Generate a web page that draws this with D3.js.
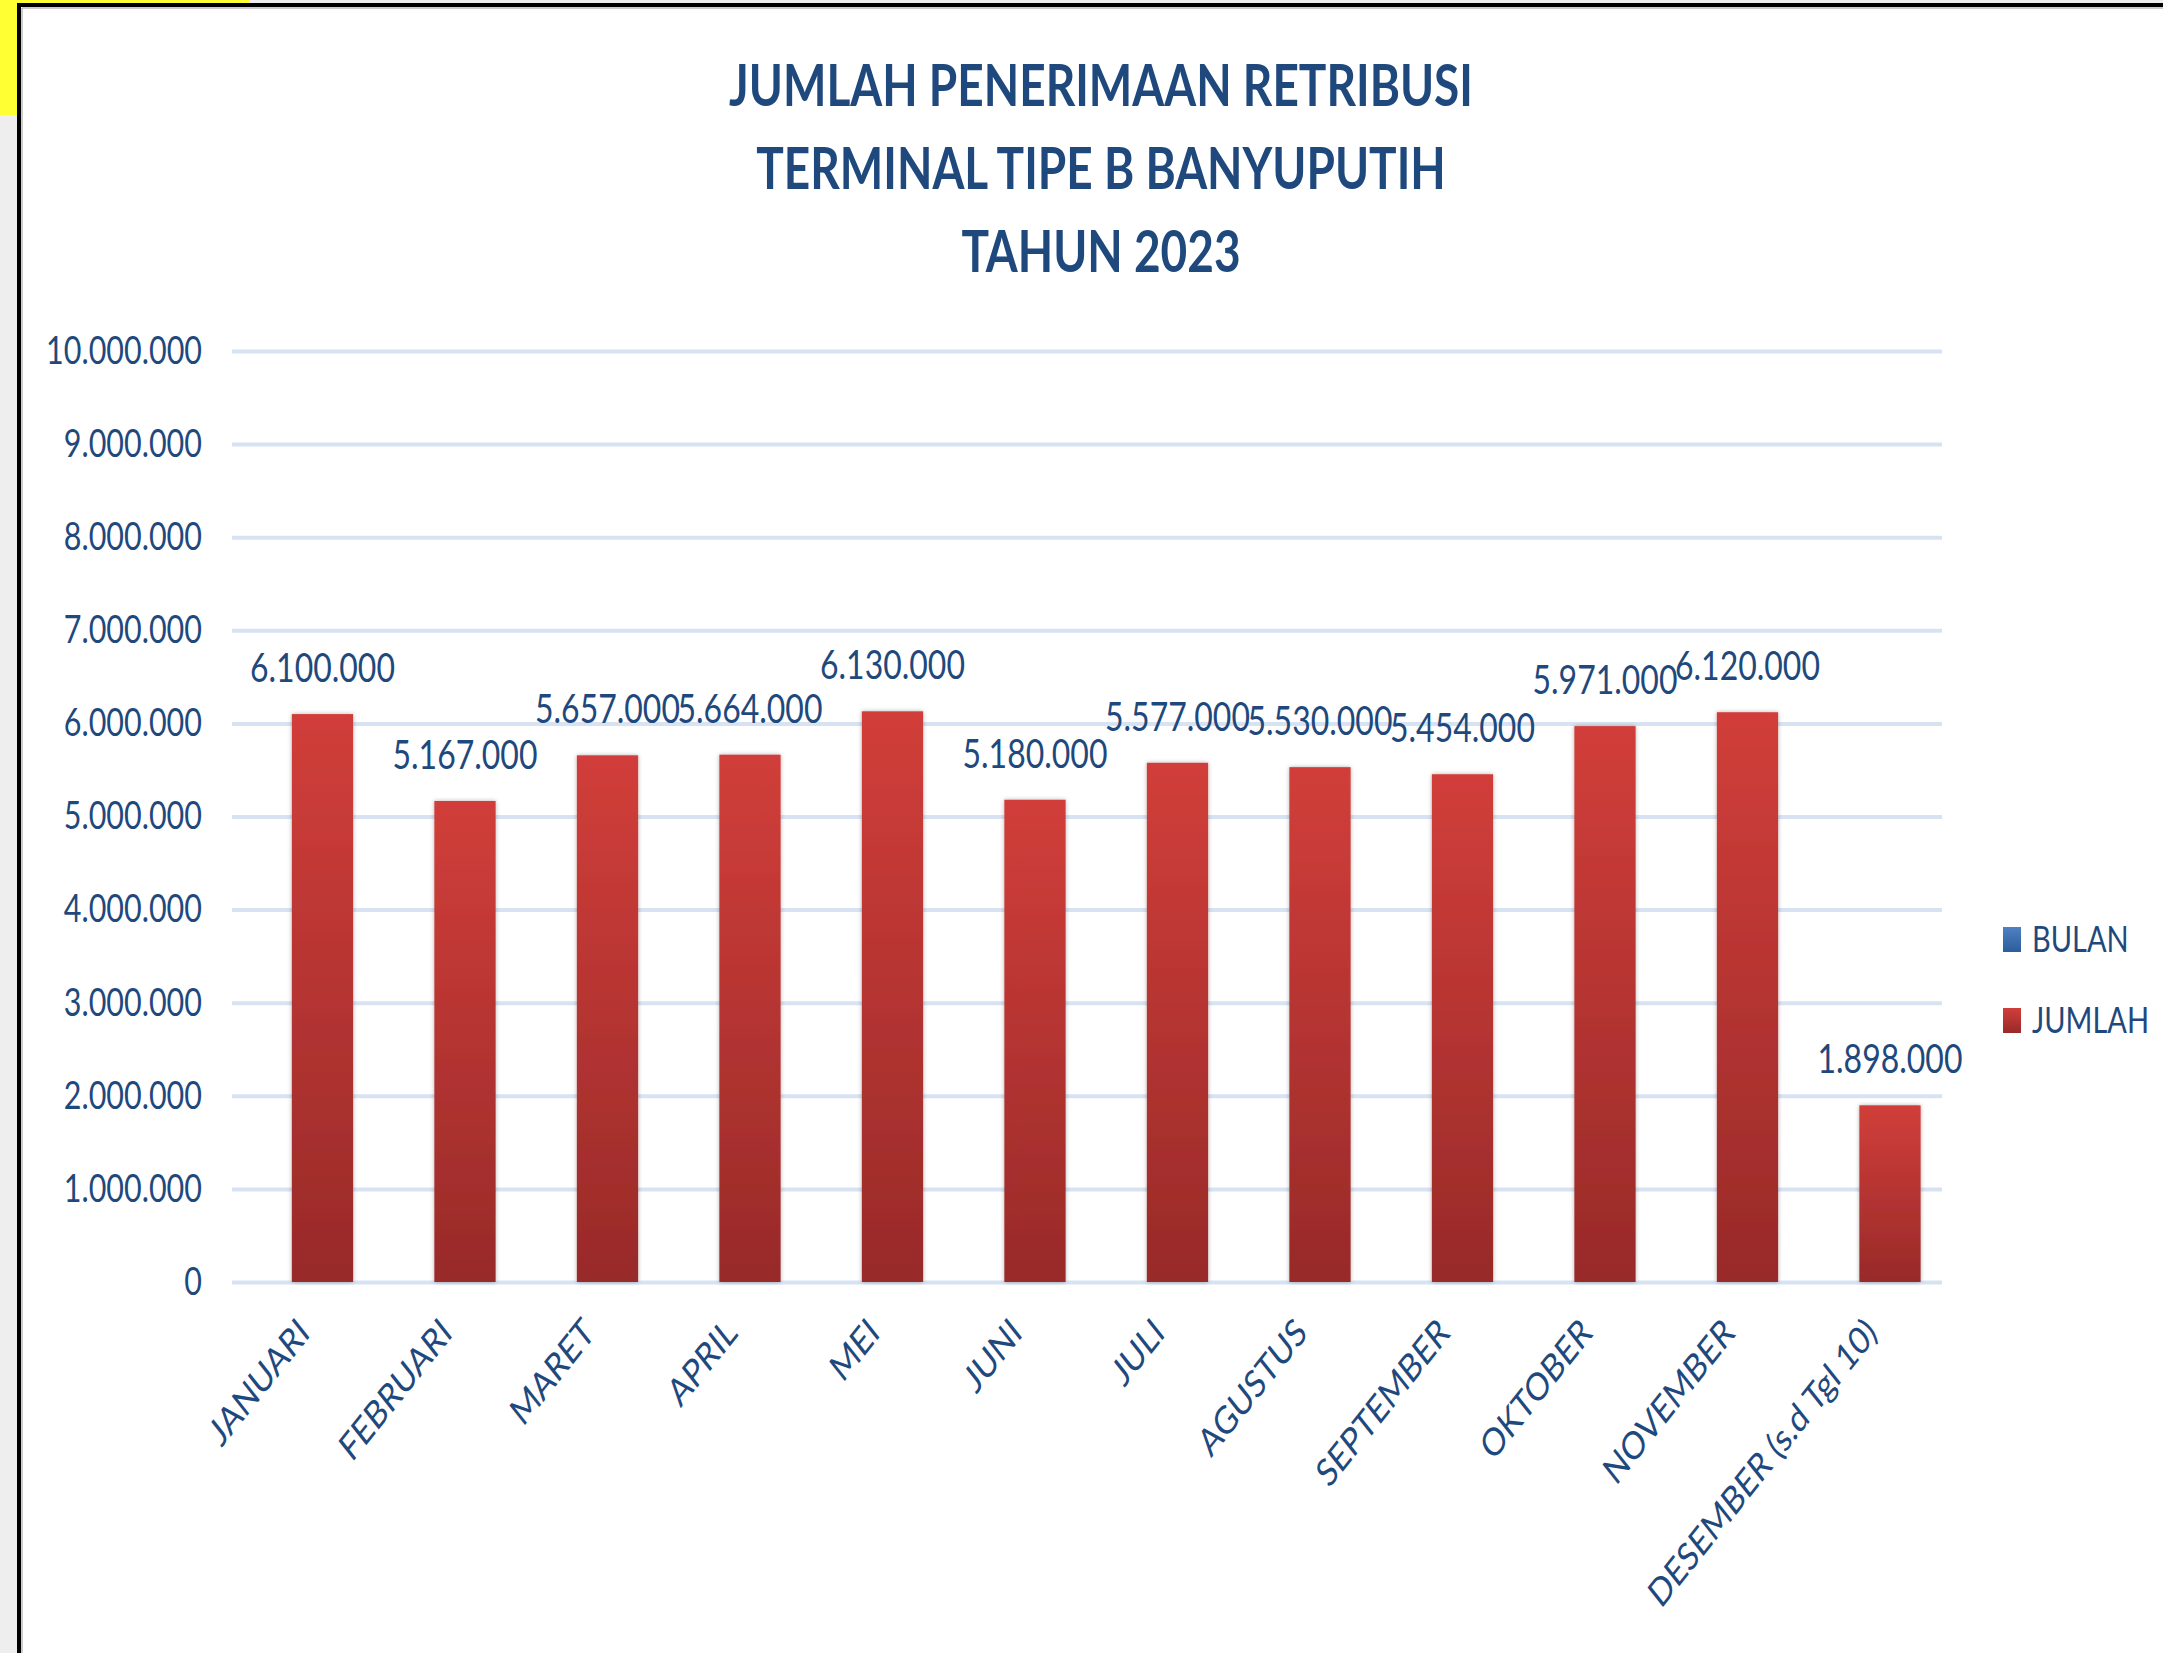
<!DOCTYPE html>
<meta charset="utf-8">
<style>
body { margin: 0; background: #eeeeee; }
svg { display: block; font-family: Lato, "Open Sans", sans-serif; }
.title { fill: #1f497d; font-weight: bold; font-size: 46px; text-anchor: middle; }
.grid line { stroke: #d7e3f3; stroke-width: 4px; }
.axis text { fill: #1f497d; font-size: 30.5px; font-family: Lato, "Open Sans", sans-serif; }
.axis path { display: none; }
.label { fill: #1f497d; font-size: 32px; text-anchor: middle; }
.legend text { fill: #1f497d; font-size: 29px; }
</style>
<svg width="2163" height="1653"></svg>
<script src="https://d3js.org/d3.v7.min.js"></script>
<script>

// data
var months = ["JANUARI", "FEBRUARI", "MARET", "APRIL", "MEI", "JUNI", "JULI",
              "AGUSTUS", "SEPTEMBER", "OKTOBER", "NOVEMBER", "DESEMBER (s.d Tgl 10)"];
var jumlah = [6100000, 5167000, 5657000, 5664000, 6130000, 5180000, 5577000,
              5530000, 5454000, 5971000, 6120000, 1898000];
var series = ["BULAN", "JUMLAH"];
var yTicks = [0, 1000000, 2000000, 3000000, 4000000, 5000000,
              6000000, 7000000, 8000000, 9000000, 10000000];
var titleLines = ["JUMLAH PENERIMAAN RETRIBUSI", "TERMINAL TIPE B BANYUPUTIH", "TAHUN 2023"];

// the source picture is stretched vertically, text follows that
var stretch = 1.26;

var idLocale = d3.formatLocale({decimal: ",", thousands: ".", grouping: [3], currency: ["Rp", ""]});
var fmt = idLocale.format(",d");

var svg = d3.select("svg");

// page frame
svg.append("rect").attr("x", 0).attr("y", 0).attr("width", 250).attr("height", 115)
    .attr("fill", "#ffff33");
svg.append("rect").attr("x", 19).attr("y", 5).attr("width", 2300).attr("height", 1800)
    .attr("fill", "white").attr("stroke", "black").attr("stroke-width", 4);
svg.append("path").attr("d", "M22,1653V8H2163").attr("fill", "none")
    .attr("stroke", "#9a9a9a").attr("stroke-width", 1);

var defs = svg.append("defs");
var red = defs.append("linearGradient").attr("id", "red")
    .attr("x1", 0).attr("y1", 0).attr("x2", 0).attr("y2", 1);
red.append("stop").attr("offset", "0%").attr("stop-color", "#d13e3a");
red.append("stop").attr("offset", "100%").attr("stop-color", "#982a29");
var blue = defs.append("linearGradient").attr("id", "blue")
    .attr("x1", 0).attr("y1", 0).attr("x2", 0).attr("y2", 1);
blue.append("stop").attr("offset", "0%").attr("stop-color", "#4f81c4");
blue.append("stop").attr("offset", "100%").attr("stop-color", "#2c5c9a");
defs.append("filter").attr("id", "shadow").attr("x", "-20%").attr("y", "-5%")
    .attr("width", "140%").attr("height", "110%")
  .append("feDropShadow").attr("dx", 0).attr("dy", 0).attr("stdDeviation", 2)
    .attr("flood-color", "#000").attr("flood-opacity", 0.3);

// title
svg.selectAll(".title").data(titleLines).enter().append("text")
    .attr("class", "title")
    .attr("transform", function(d, i) { return "translate(1101," + (106 + i * 83) + ") scale(1," + stretch + ")"; })
    .text(function(d) { return d; });

var plotLeft = 232, plotRight = 1942, plotBottom = 1282, plotTop = 351;

var x0 = d3.scaleBand().domain(months).range([plotLeft, plotRight]);
var bw = x0.bandwidth();
var x1 = d3.scalePoint().domain(series).range([bw * 0.365, bw * 0.635]);
var barW = bw * 0.43;
var y = d3.scaleLinear().domain([0, 10000000]).range([plotBottom, plotTop]);

// gridlines
svg.append("g").attr("class", "grid")
    .attr("transform", "translate(" + plotLeft + ",0)")
    .call(d3.axisLeft(y).tickValues(yTicks).tickSize(-(plotRight - plotLeft)).tickFormat(""))
    .select(".domain").remove();

// y axis labels
var yAxis = svg.append("g").attr("class", "axis")
    .attr("transform", "translate(" + plotLeft + ",0)")
    .call(d3.axisLeft(y).tickValues(yTicks).tickSize(0).tickPadding(30).tickFormat(fmt));
yAxis.selectAll("text").attr("transform", "scale(1," + stretch + ")");

// bars
svg.append("g").selectAll("rect").data(jumlah).enter().append("rect")
    .attr("x", function(d, i) { return x0(months[i]) + x1("JUMLAH") - barW / 2; })
    .attr("y", function(d) { return y(d); })
    .attr("width", barW)
    .attr("height", function(d) { return y(0) - y(d); })
    .attr("fill", "url(#red)")
    .attr("filter", "url(#shadow)");

// value labels
svg.append("g").selectAll("text").data(jumlah).enter().append("text")
    .attr("class", "label")
    .attr("transform", function(d, i) {
      return "translate(" + (x0(months[i]) + x1("JUMLAH")) + "," + (y(d) - 32) + ") scale(1," + stretch + ")";
    })
    .text(fmt);

// x axis labels
var xAxis = svg.append("g").attr("class", "axis")
    .attr("transform", "translate(0," + plotBottom + ")")
    .call(d3.axisBottom(x0).tickSize(0));
xAxis.selectAll("text")
    .attr("x", 0).attr("y", 0).attr("dy", 0)
    .style("text-anchor", "end")
    .attr("transform", "translate(8,53) scale(1," + stretch + ") rotate(-45)");

// legend
var ly = d3.scalePoint().domain(series).range([952, 1033]);
var legend = svg.append("g").attr("class", "legend").selectAll("g").data(series).enter().append("g")
    .attr("transform", function(d) { return "translate(2003," + ly(d) + ")"; });
legend.append("rect").attr("x", 0).attr("y", -25).attr("width", 18).attr("height", 25)
    .attr("fill", function(d) { return d == "BULAN" ? "url(#blue)" : "url(#red)"; });
legend.append("text").attr("x", 29)
    .attr("transform", "scale(1," + stretch + ")")
    .text(function(d) { return d; });

</script>
